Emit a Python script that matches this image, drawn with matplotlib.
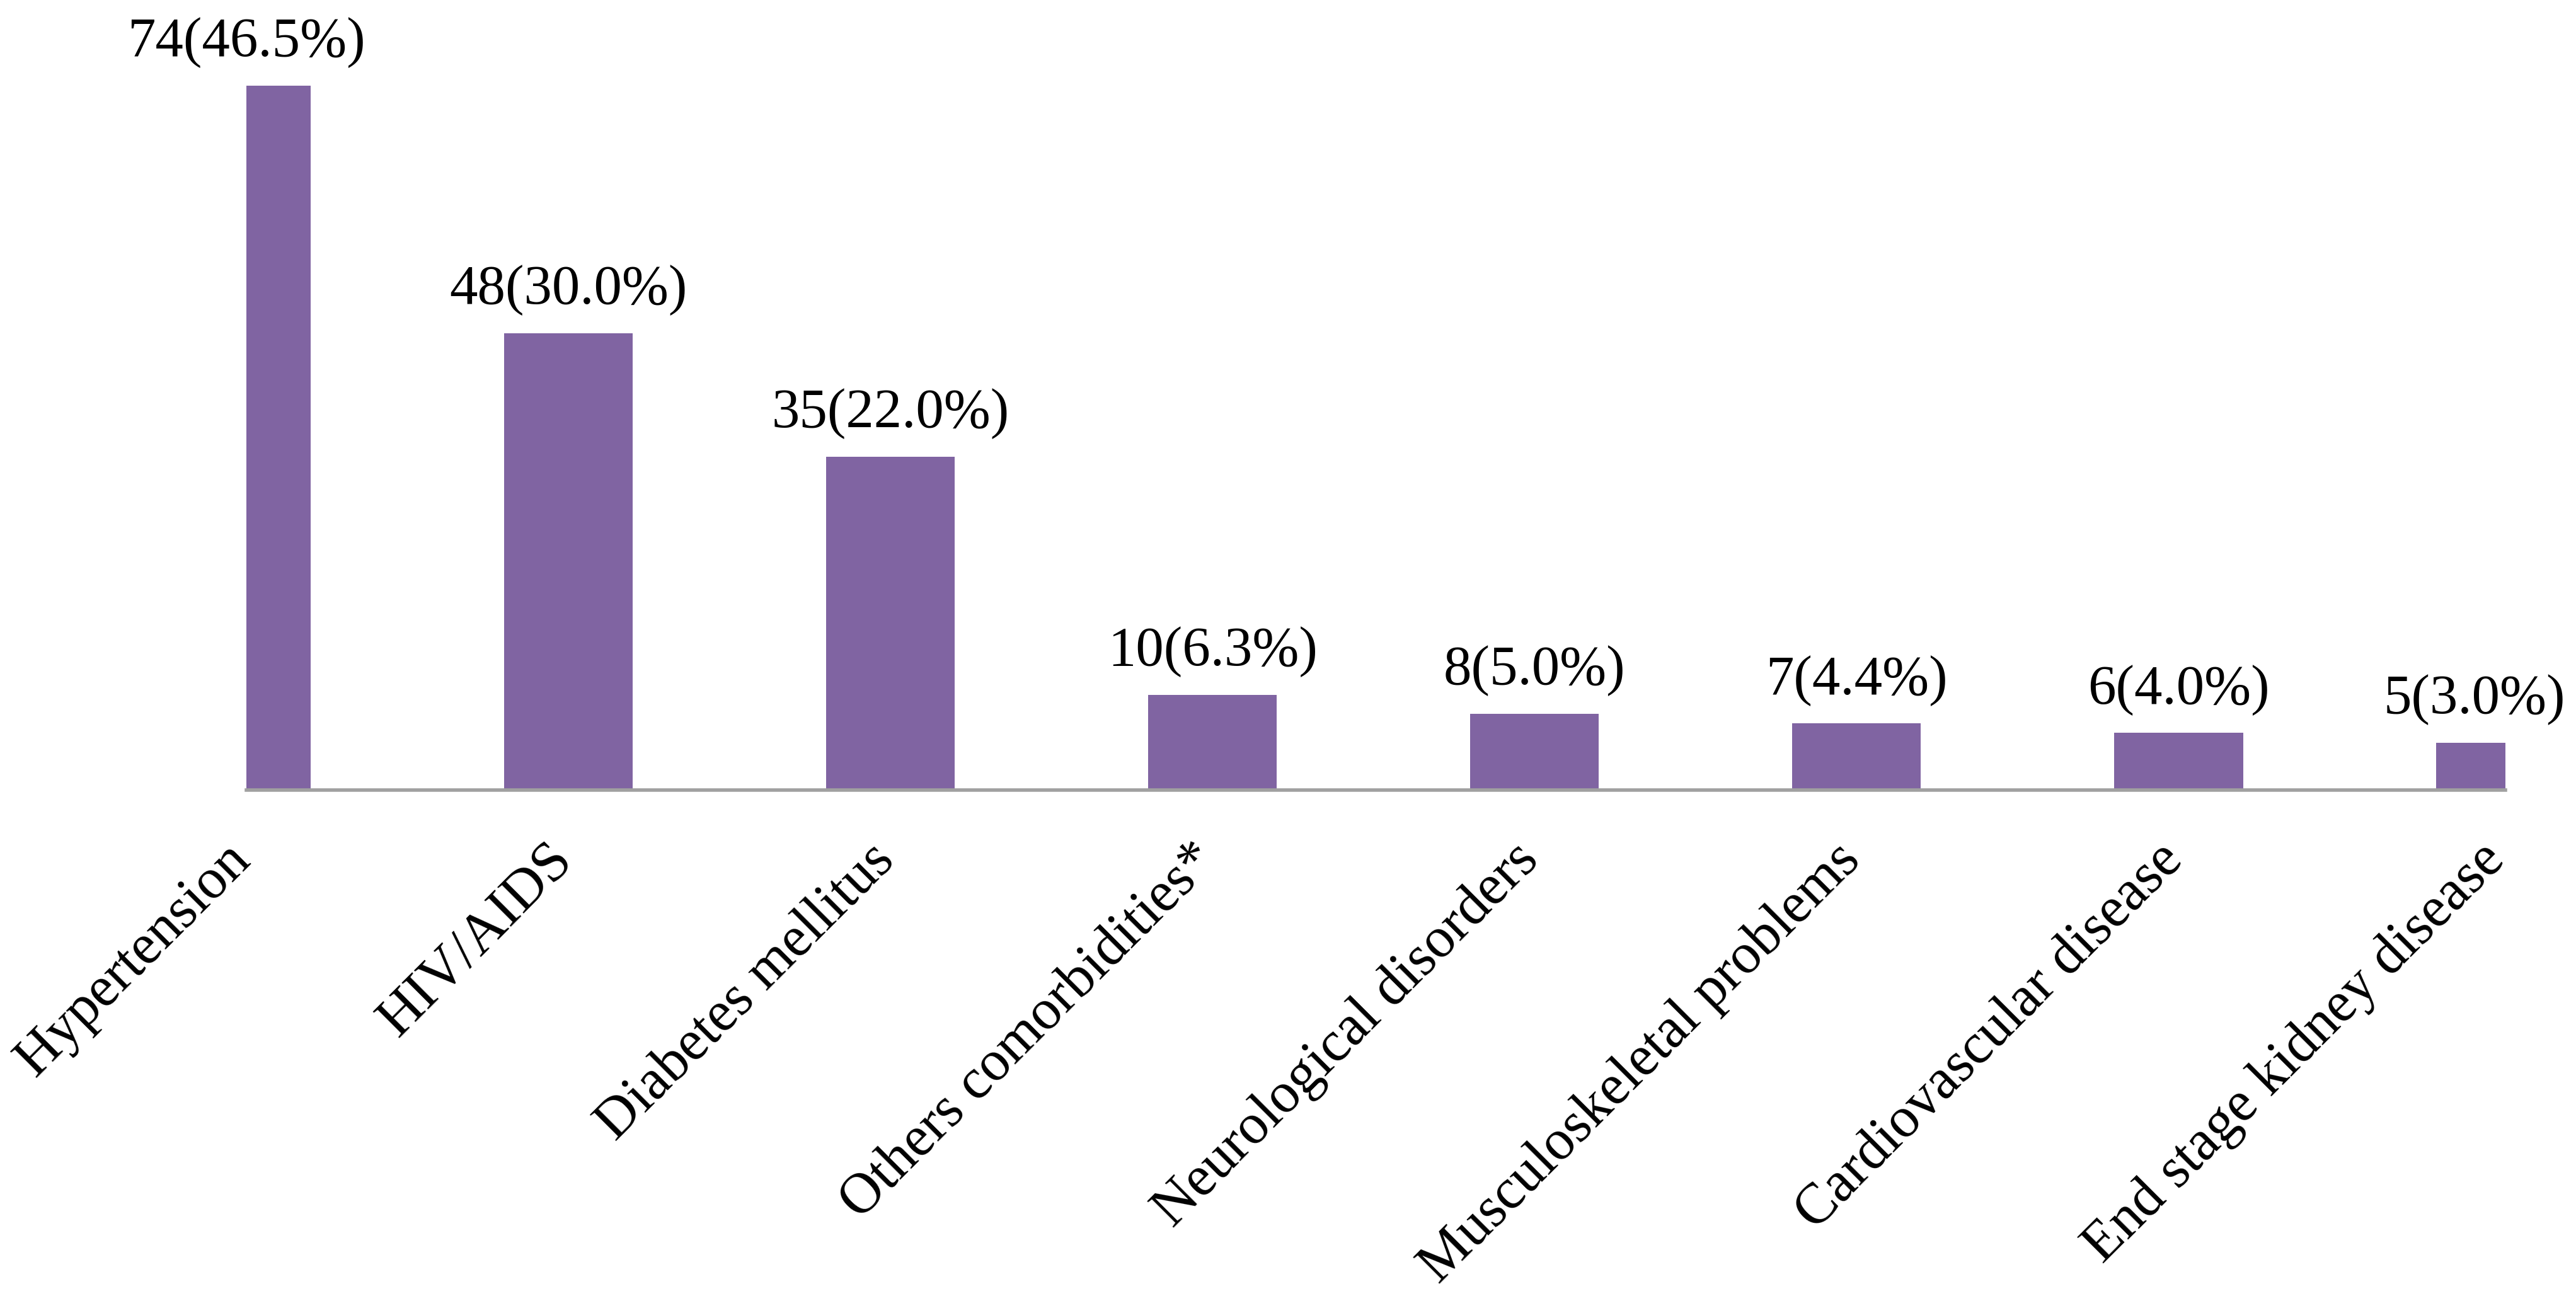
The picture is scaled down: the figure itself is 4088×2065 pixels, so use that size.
import numpy as np
import matplotlib.pyplot as plt
from matplotlib.transforms import ScaledTranslation

# datos
categorias = ['Hypertension', 'HIV/AIDS', 'Diabetes mellitus', 'Others comorbidities*',
              'Neurological disorders', 'Musculoskeletal problems', 'Cardiovascular disease',
              'End stage kidney disease']
conteos = [74, 48, 35, 10, 8, 7, 6, 5]
etiquetas = ['74(46.5%)', '48(30.0%)', '35(22.0%)', '10(6.3%)', '8(5.0%)', '7(4.4%)',
             '6(4.0%)', '5(3.0%)']

plt.rcParams['font.family'] = ['Liberation Serif', 'DejaVu Serif']

fig = plt.figure(figsize=(40.88, 20.65), dpi=100)
ax = fig.add_axes([0.0957, 0.3927, 0.8769, 0.6073])

x = np.arange(len(categorias))
ax.bar(x, conteos, width=0.4, color='#8064A2', zorder=2)

# etiquetas de datos; la ultima se corre un poco a la izquierda como en Excel
for i, (xi, c, t) in enumerate(zip(x, conteos, etiquetas)):
    dx = -30 if i == len(x) - 1 else 0
    ax.annotate(t, xy=(xi, c), xytext=(dx, 20), textcoords='offset points',
                ha='center', va='bottom', fontsize=64, annotation_clip=False)

ax.set_xlim(0, 7.015)
ax.set_ylim(0, 83)

ax.set_xticks(x)
ax.set_xticklabels(categorias, rotation=45, ha='right', rotation_mode='anchor', fontsize=65)
ax.tick_params(axis='x', length=0, pad=44)
# correr las etiquetas un poco a la izquierda
desplazamiento = ScaledTranslation(-0.36, -0.08, fig.dpi_scale_trans)
for lab in ax.get_xticklabels():
    lab.set_transform(lab.get_transform() + desplazamiento)
ax.set_yticks([])

for lado in ['top', 'right', 'left']:
    ax.spines[lado].set_visible(False)
ax.spines['bottom'].set_color('#A0A0A0')
ax.spines['bottom'].set_linewidth(4)
ax.spines['bottom'].set_zorder(3)

fig.savefig('out.png', dpi=100)
